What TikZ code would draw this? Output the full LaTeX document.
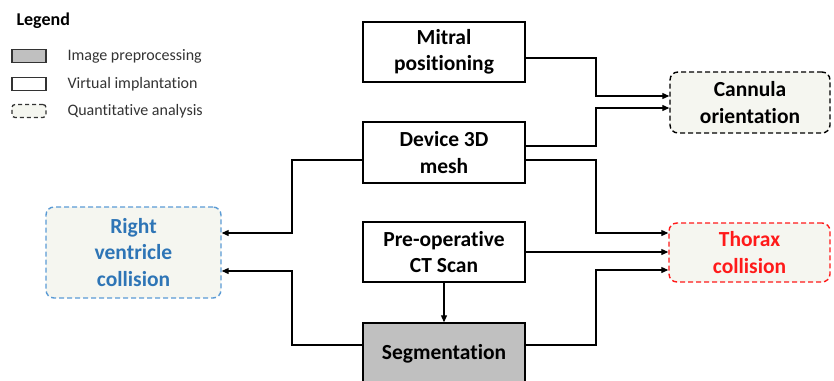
\documentclass[tikz,border=0pt]{standalone}
\usepackage{fontspec}
\setmainfont[Ligatures=NoCommon]{Carlito}
\usetikzlibrary{arrows.meta}
\definecolor{rvblue}{HTML}{2E75B6}
\definecolor{rvborder}{HTML}{5B9BD5}
\definecolor{qfill}{HTML}{F5F6F0}
\definecolor{segfill}{HTML}{C0C0C0}
\definecolor{thred}{HTML}{FF1A1A}
\begin{document}
\begin{tikzpicture}[x=1pt,y=-1pt,
  proc/.style={draw=black, line width=1.4pt, fill=white, align=center, font=\fontsize{21.5}{26.5}\selectfont\bfseries, inner sep=0pt},
  quant/.style={draw=black, line width=1.4pt, dash pattern=on 5pt off 3pt, rounded corners=8pt, fill=qfill, align=center, font=\fontsize{21.5}{26.5}\selectfont\bfseries, inner sep=0pt},
  conn/.style={line width=1.1pt, -{Triangle[length=7pt,width=6pt]}},
  leg/.style={anchor=west, font=\fontsize{16}{18}\selectfont, text=black!80},
  legbox/.style={line width=1.3pt, minimum width=34pt, minimum height=13pt, inner sep=0pt}
]
\useasboundingbox (0,0) rectangle (834,380);
% legend
\node[anchor=west, font=\fontsize{18}{20}\selectfont\bfseries] (legt) at (13,21) {Legend};
\node[legbox, draw=black!80, fill=segfill] (lb1) at (29,56) {};
\node[legbox, draw=black!80, fill=white] (lb2) at (29,84) {};
\node[legbox, draw=black!80, dash pattern=on 4pt off 3pt, rounded corners=3pt, fill=qfill] (lb3) at (29,111) {};
\node[leg] (lt1) at (64,56) {Image preprocessing};
\node[leg] (lt2) at (64,84) {Virtual implantation};
\node[leg] (lt3) at (64,111) {Quantitative analysis};
% process boxes
\node[proc, minimum width=162pt, minimum height=60pt] (mitral) at (444,52) {Mitral\\positioning};
\node[proc, minimum width=162pt, minimum height=61pt] (device) at (444,152.5) {Device 3D\\mesh};
\node[proc, minimum width=162pt, minimum height=60pt] (ct) at (444,252) {Pre-operative\\CT Scan};
\node[proc, fill=segfill, minimum width=162pt, minimum height=62pt] (seg) at (444,354) {Segmentation};
% quantitative boxes
\node[quant, minimum width=160pt, minimum height=61pt] (cann) at (750,102.5) {Cannula\\orientation};
\node[quant, draw=thred, fill=qfill, text=thred, minimum width=161pt, minimum height=59pt] (thorax) at (749.5,252.5) {Thorax\\collision};
\node[quant, draw=rvborder, text=rvblue, minimum width=175pt, minimum height=91pt] (rv) at (133.5,252.5) {Right\\ventricle\\collision};
% connectors
\coordinate (xr) at (596,0);
\coordinate (xl) at (292,0);
\draw[conn] (mitral.east |- 0,58) -| (xr |- 0,77) |- (cann.west |- 0,96);
\draw[conn] (device.east |- 0,146) -| (xr |- 0,120) |- (cann.west |- 0,108);
\draw[conn] (device.east |- 0,160) -| (xr |- 0,200) |- (thorax.west |- 0,233);
\draw[conn] (ct.east |- 0,252) -- (thorax.west |- 0,252);
\draw[conn] (seg.east |- 0,345) -| (xr |- 0,300) |- (thorax.west |- 0,270);
\draw[conn] (device.west |- 0,160) -| (xl |- 0,200) |- (rv.east |- 0,233);
\draw[conn] (seg.west |- 0,345) -| (xl |- 0,300) |- (rv.east |- 0,271);
\draw[conn] (ct.south) -- (seg.north);
\end{tikzpicture}
\end{document}
